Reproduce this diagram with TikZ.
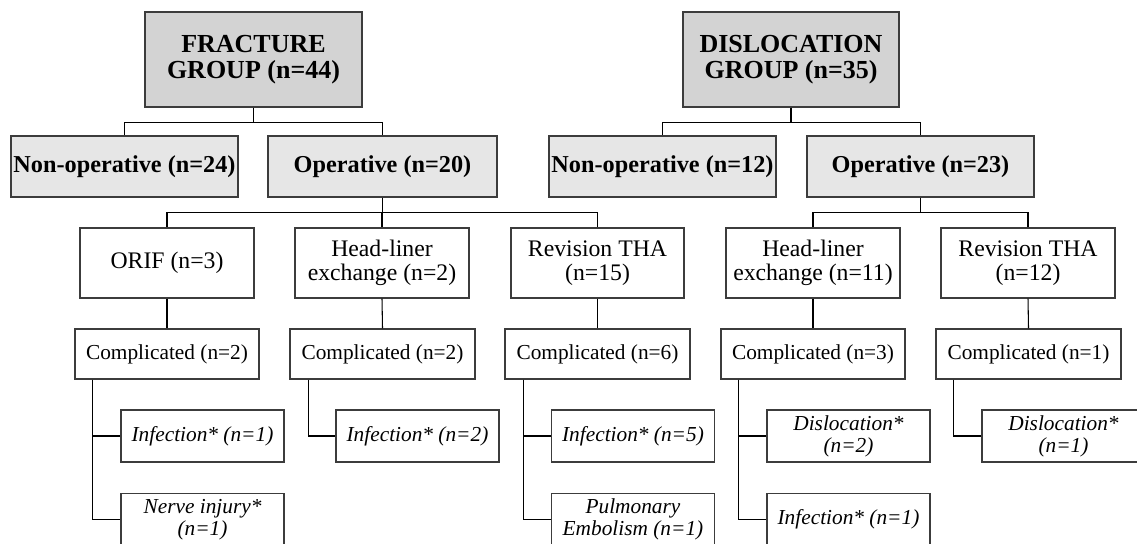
\documentclass[tikz,border=0pt]{standalone}
\usepackage{fontspec}
\setmainfont{Liberation Serif}
\definecolor{topfill}{RGB}{211,211,211}
\definecolor{midfill}{RGB}{230,230,230}
\definecolor{edge}{RGB}{60,60,60}
\tikzset{
  box/.style={draw=edge, line width=0.8pt, inner sep=0pt, align=center, anchor=center},
  topbox/.style={box, fill=topfill, minimum width=216\pxu, minimum height=95\pxu,
     font=\fontsize{19.5}{19.5}\selectfont\bfseries},
  grpbox/.style={box, fill=midfill, minimum width=227\pxu, minimum height=61\pxu,
     font=\fontsize{18.2}{18.2}\selectfont\bfseries},
  treatbox/.style={box, fill=white, minimum width=174\pxu, minimum height=70\pxu,
     font=\fontsize{17.8}{17.8}\selectfont},
  compbox/.style={box, fill=white, minimum width=184\pxu, minimum height=50\pxu,
     font=\fontsize{16}{16}\selectfont},
  itbox/.style={box, fill=white, minimum width=163\pxu, minimum height=52\pxu,
     font=\fontsize{16}{16.3}\selectfont\itshape},
  link/.style={draw=black, line width=0.8pt},
}
\newcommand{\pxu}{pt*0.75}
\begin{document}
\begin{tikzpicture}[x=0.75pt, y=-0.75pt]
\useasboundingbox (0,0) rectangle (1137,543);
\clip (0,0) rectangle (1137,543);
% top
\node[topbox, minimum width=217*0.75pt] (fg) at (253.5,59.5) {FRACTURE\\GROUP (n=44)};
\node[topbox] (dg) at (791,59.5) {DISLOCATION\\GROUP (n=35)};
% level 2
\node[grpbox] (fno) at (124.5,166.5) {Non-operative (n=24)};
\node[grpbox, minimum width=229*0.75pt] (fop) at (382.5,166.5) {Operative (n=20)};
\node[grpbox] (dno) at (662.5,166.5) {Non-operative (n=12)};
\node[grpbox] (dop) at (920.5,166.5) {Operative (n=23)};
% level 3
\node[treatbox] (orif) at (167,263) {ORIF (n=3)};
\node[treatbox] (fhl) at (382,263) {Head-liner\\exchange (n=2)};
\node[treatbox, minimum width=173*0.75pt] (frev) at (597.5,263) {Revision THA\\(n=15)};
\node[treatbox] (dhl) at (813,263) {Head-liner\\exchange (n=11)};
\node[treatbox] (drev) at (1028,263) {Revision THA\\(n=12)};
% complicated
\node[compbox] (c1) at (167,354) {Complicated (n=2)};
\node[compbox, minimum width=185*0.75pt] (c2) at (382.5,354) {Complicated (n=2)};
\node[compbox, minimum width=185*0.75pt] (c3) at (597.5,354) {Complicated (n=6)};
\node[compbox] (c4) at (813,354) {Complicated (n=3)};
\node[compbox, minimum width=185*0.75pt] (c5) at (1028.5,354) {Complicated (n=1)};
% complications
\node[itbox] (i1) at (202.5,436) {Infection* (n=1)};
\node[itbox] (i2) at (417.5,436) {Infection* (n=2)};
\node[itbox] (i3) at (633,436) {Infection* (n=5)};
\node[itbox] (i4) at (848.5,436) {Dislocation*\\(n=2)};
\node[itbox] (i5) at (1063.5,436) {Dislocation*\\(n=1)};
\node[itbox] (b1) at (202.5,519.5) {Nerve injury*\\(n=1)};
\node[itbox] (b3) at (633,519.5) {Pulmonary\\Embolism (n=1)};
\node[itbox] (b4) at (848.5,519.5) {Infection* (n=1)};
% connectors level 1
\draw[link] (fg.south) -- ++(0,15) -| (fno.north);
\draw[link] (fg.south) -- ++(0,15) -| (fop.north);
\draw[link] (dg.south) -- ++(0,15) -| (dno.north);
\draw[link] (dg.south) -- ++(0,15) -| (dop.north);
% level 2
\draw[link] (fop.south) -- ++(0,15) -| (orif.north);
\draw[link] (fop.south) -- ++(0,15) -| (fhl.north);
\draw[link] (fop.south) -- ++(0,15) -| (frev.north);
\draw[link] (dop.south) -- ++(0,15) -| (dhl.north);
\draw[link] (dop.south) -- ++(0,15) -| (drev.north);
% level 3
\draw[link] (orif.south) -- (c1.north);
\draw[link] (fhl.south) -- (c2.north);
\draw[link] (frev.south) -- (c3.north);
\draw[link] (dhl.south) -- (c4.north);
\draw[link] (drev.south) -- (c5.north);
% complications
\draw[link] ([xshift=18*0.75pt]c1.south west) |- (b1.west);
\draw[link] ([xshift=18*0.75pt]c1.south west) |- (i1.west);
\draw[link] ([xshift=19*0.75pt]c2.south west) |- (i2.west);
\draw[link] ([xshift=19*0.75pt]c3.south west) |- (b3.west);
\draw[link] ([xshift=19*0.75pt]c3.south west) |- (i3.west);
\draw[link] ([xshift=18*0.75pt]c4.south west) |- (b4.west);
\draw[link] ([xshift=18*0.75pt]c4.south west) |- (i4.west);
\draw[link] ([xshift=18*0.75pt]c5.south west) |- (i5.west);
\end{tikzpicture}
\end{document}
